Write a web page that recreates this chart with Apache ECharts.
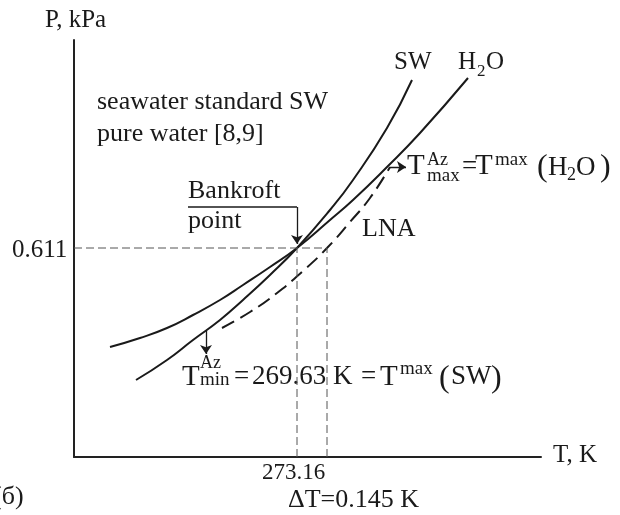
<!DOCTYPE html>
<html>
<head>
<meta charset="utf-8">
<script src="https://cdn.jsdelivr.net/npm/echarts/dist/echarts.min.js"></script>
<style>
  html, body { margin: 0; padding: 0; background: #fff; }
  #chart { width: 620px; height: 515px; }
</style>
</head>
<body>
<div id="chart"></div>
<script>
// schematic units: x ~ T, y ~ P (arbitrary, same scale as the figure)
const h2oT = [36, 66, 93, 119, 146, 169, 196, 223, 256, 279, 313, 346, 394];
const h2oP = [110, 119, 129, 142, 157, 172, 190, 209, 237, 257, 290, 324, 379];
const swT = [62, 93, 119, 146, 169, 196, 223, 256, 279, 313, 338];
const swP = [77, 97, 117, 137, 157, 182, 209, 247, 277, 329, 377];
const lnaT = [148, 176, 203, 229, 253, 276, 296, 316];
const lnaP = [129, 145, 164, 186, 209, 235, 259, 290];

// Bankroft point and the shifted LNA crossing
const bankT = 223;
const bankP = 209;
const lnaCrossT = 253;

const zip = (xs, ys) => xs.map((x, i) => [x, ys[i]]);

const chart = echarts.init(document.getElementById("chart"));
const serif = '"Liberation Serif", "DejaVu Serif", serif';
const ink = "#1a1a1a";

// one text piece, y is the middle of the glyphs
function txt(s, x, y, size) {
  return {
    type: "text",
    x: x,
    y: y,
    style: {
      text: s,
      fontFamily: serif,
      fontSize: size,
      fill: ink,
      align: "left",
      verticalAlign: "middle",
    },
  };
}

const thinDash = { color: "#555", width: 1, type: [8, 4] };

const option = {
  animation: false,
  grid: { left: 74, right: 79, top: 40, bottom: 58 },
  xAxis: {
    type: "value",
    min: 0,
    max: 467,
    axisLine: { show: true, lineStyle: { color: "#222", width: 2 } },
    axisTick: { show: false },
    axisLabel: { show: false },
    splitLine: { show: false },
  },
  yAxis: {
    type: "value",
    min: 0,
    max: 417,
    axisLine: { show: true, lineStyle: { color: "#222", width: 2 } },
    axisTick: { show: false },
    axisLabel: { show: false },
    splitLine: { show: false },
  },
  series: [
    {
      name: "H2O",
      type: "line",
      smooth: true,
      showSymbol: false,
      lineStyle: { color: ink, width: 2 },
      data: zip(h2oT, h2oP),
    },
    {
      name: "SW",
      type: "line",
      smooth: true,
      showSymbol: false,
      lineStyle: { color: ink, width: 2 },
      data: zip(swT, swP),
    },
    {
      name: "LNA",
      type: "line",
      smooth: true,
      showSymbol: false,
      lineStyle: { color: ink, width: 2, type: [14, 7] },
      data: zip(lnaT, lnaP),
    },
    // guide lines 0.611 / 273.16 / +ΔT
    {
      type: "line",
      showSymbol: false,
      lineStyle: thinDash,
      data: [[0, bankP], [lnaCrossT, bankP]],
    },
    {
      type: "line",
      showSymbol: false,
      lineStyle: thinDash,
      data: [[bankT, 0], [bankT, bankP]],
    },
    {
      type: "line",
      showSymbol: false,
      lineStyle: thinDash,
      data: [[lnaCrossT, 0], [lnaCrossT, bankP]],
    },
    // Bankroft bracket (top part)
    {
      type: "line",
      showSymbol: false,
      lineStyle: { color: ink, width: 1.3 },
      data: [[114, 250], [bankT, 250]],
    },
    // arrows
    {
      type: "lines",
      coordinateSystem: "cartesian2d",
      symbol: ["none", "arrow"],
      symbolSize: [7, 9],
      lineStyle: { color: ink, width: 1.3, opacity: 1 },
      data: [
        { coords: [[bankT, 250], [bankT, 213]] },
        { coords: [[132, 126], [132, 103]] },
        { coords: [[316, 290], [332, 290]] },
      ],
    },
  ],
  graphic: [
    txt("P, kPa", 45, 20, 25),
    txt("SW", 394, 62, 25),
    txt("H", 458, 62, 25),
    txt("2", 477, 72, 17),
    txt("O", 486, 62, 25),
    txt("seawater standard SW", 97, 102, 26),
    txt("pure water [8,9]", 97, 134, 26),
    txt("Bankroft", 188, 191, 26),
    txt("point", 188, 221, 26),
    txt("0.611", 12, 250, 25),
    txt("LNA", 362, 229, 26),
    txt("T, K", 553, 455, 25),
    txt("273.16", 262, 473, 23),
    txt("ΔT=0.145 K", 288, 500, 26),
    txt("(б)", -7, 497, 26),
    // T_max label
    txt("T", 407, 166, 29),
    txt("Az", 427, 160, 18),
    txt("max", 427, 176, 19),
    txt("=", 462, 167, 27),
    txt("T", 475, 166, 29),
    txt("max", 495, 160, 19),
    txt("(", 537, 168, 32),
    txt("H", 548, 168, 27),
    txt("2", 567, 175, 18),
    txt("O", 576, 168, 27),
    txt(")", 600, 168, 32),
    // T_min label
    txt("T", 182, 377, 29),
    txt("Az", 200, 363, 18),
    txt("min", 200, 380, 19),
    txt("=", 234, 377, 27),
    txt("269.63 K", 252, 377, 27),
    txt("=", 361, 377, 27),
    txt("T", 380, 377, 29),
    txt("max", 400, 369, 19),
    txt("(", 439, 379, 32),
    txt("SW", 451, 377, 27),
    txt(")", 491, 379, 32),
  ],
};

chart.setOption(option);
</script>
</body>
</html>
